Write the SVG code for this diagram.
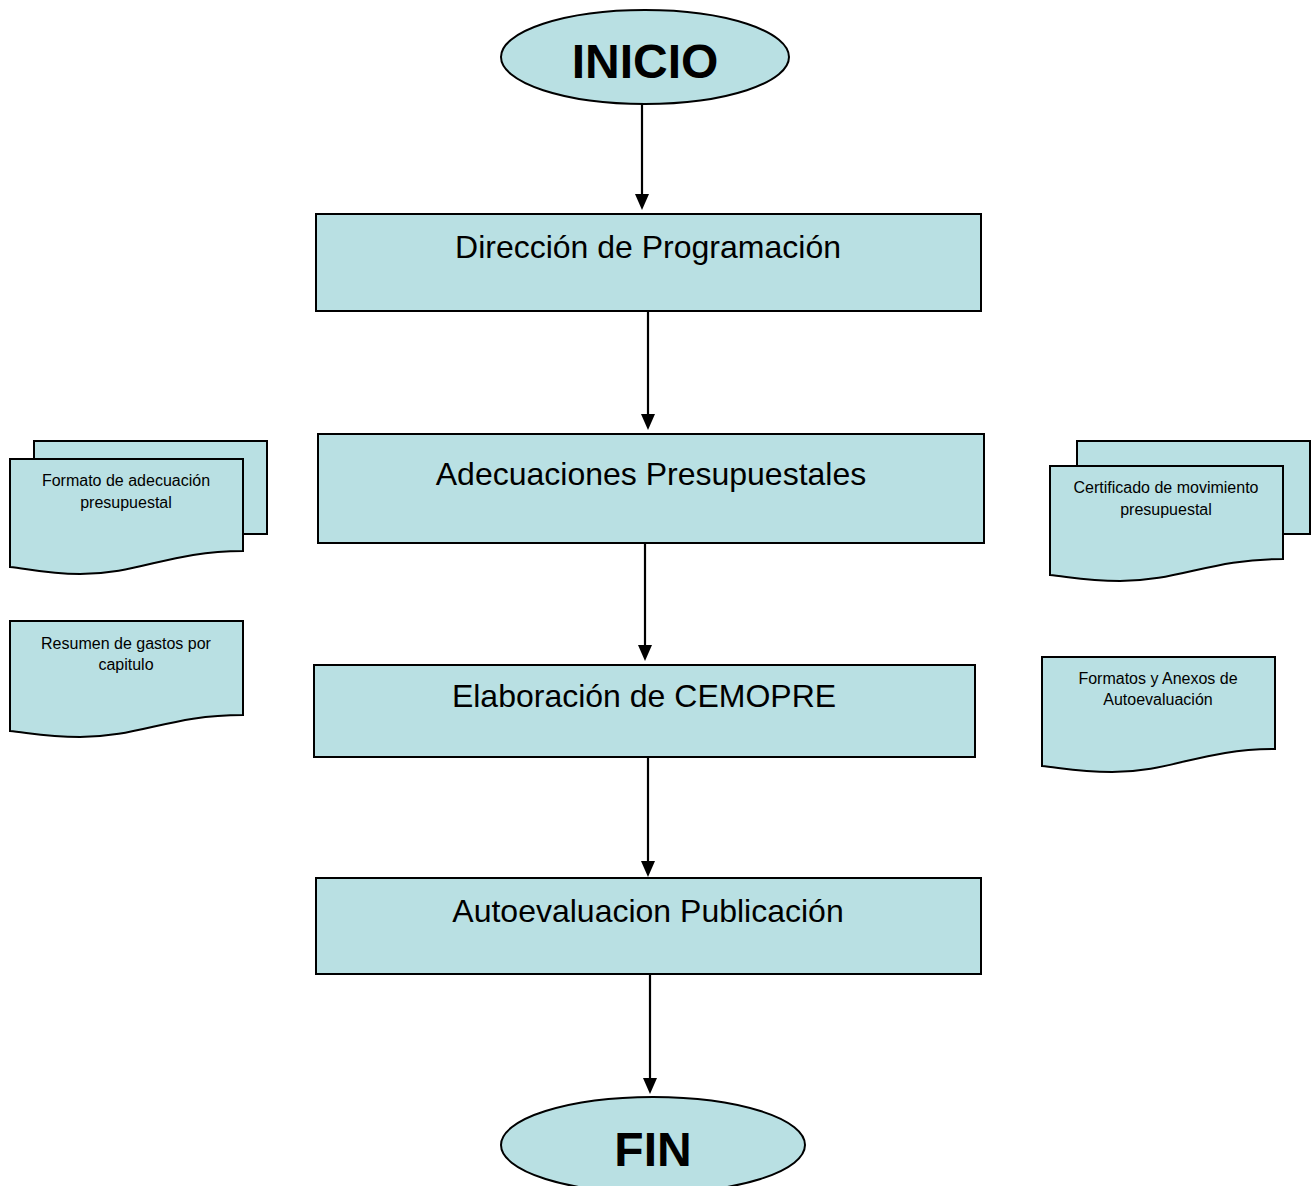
<svg xmlns="http://www.w3.org/2000/svg" width="1314" height="1186" viewBox="0 0 1314 1186">
  <style>
    .shape { fill: #B9E0E3; stroke: #000; stroke-width: 2; }
    .edge { stroke: #000; stroke-width: 2.2; fill: none; }
    .head { fill: #000; }
    .big { font-family: "Liberation Sans", Arial, sans-serif; font-size: 32px; fill: #000; text-anchor: middle; }
    .term { font-family: "Liberation Sans", Arial, sans-serif; font-size: 48px; font-weight: bold; fill: #000; text-anchor: middle; }
    .small { font-family: "Liberation Sans", Arial, sans-serif; font-size: 16px; fill: #000; text-anchor: middle; }
  </style>
  <rect width="1314" height="1186" fill="#fff"/>

  <g id="connectors">
    <path class="edge" d="M642,104 L642,194"/>
    <path class="head" d="M635,194 L649,194 L642,210 Z"/>
    <path class="edge" d="M648,311 L648,414"/>
    <path class="head" d="M641,414 L655,414 L648,430 Z"/>
    <path class="edge" d="M645,543 L645,645"/>
    <path class="head" d="M638,645 L652,645 L645,661 Z"/>
    <path class="edge" d="M648,757 L648,861"/>
    <path class="head" d="M641,861 L655,861 L648,877 Z"/>
    <path class="edge" d="M650,974 L650,1078"/>
    <path class="head" d="M643,1078 L657,1078 L650,1094 Z"/>
  </g>

  <g id="inicio">
    <ellipse class="shape" cx="645" cy="57" rx="144" ry="47"/>
    <text class="term" x="645" y="78">INICIO</text>
  </g>

  <g id="direccion">
    <rect class="shape" x="316" y="214" width="665" height="97"/>
    <text class="big" x="648" y="258">Dirección de Programación</text>
  </g>

  <g id="adecuaciones">
    <rect class="shape" x="318" y="434" width="666" height="109"/>
    <text class="big" x="651" y="485">Adecuaciones Presupuestales</text>
  </g>

  <g id="cemopre">
    <rect class="shape" x="314" y="665" width="661" height="92"/>
    <text class="big" x="644" y="707">Elaboración de CEMOPRE</text>
  </g>

  <g id="autoevaluacion">
    <rect class="shape" x="316" y="878" width="665" height="96"/>
    <text class="big" x="648" y="922">Autoevaluacion Publicación</text>
  </g>

  <g id="fin">
    <ellipse class="shape" cx="653" cy="1145" rx="152" ry="48"/>
    <text class="term" x="653" y="1166">FIN</text>
  </g>

  <!-- stacked documents: formato de adecuación -->
  <g id="doc-formato">
    <rect class="shape" x="34" y="441" width="233" height="93"/>
    <path class="shape" d="M10,459 L243,459 L243,551 C170,551 140,574 80,574 C45,574 25,568 10,567 Z"/>
    <text class="small" x="126" y="486">Formato de adecuación</text>
    <text class="small" x="126" y="508">presupuestal</text>
  </g>

  <!-- stacked documents: certificado -->
  <g id="doc-certificado">
    <rect class="shape" x="1077" y="441" width="233" height="93"/>
    <path class="shape" d="M1050,466 L1283,466 L1283,559 C1210,559 1180,581 1120,581 C1085,581 1065,576 1050,575 Z"/>
    <text class="small" x="1166" y="493">Certificado de movimiento</text>
    <text class="small" x="1166" y="515">presupuestal</text>
  </g>

  <!-- single document: resumen -->
  <g id="doc-resumen">
    <path class="shape" d="M10,621 L243,621 L243,715 C170,715 140,737 80,737 C45,737 25,732 10,731 Z"/>
    <text class="small" x="126" y="649">Resumen de gastos por</text>
    <text class="small" x="126" y="670">capitulo</text>
  </g>

  <!-- single document: formatos y anexos -->
  <g id="doc-formatos">
    <path class="shape" d="M1042,657 L1275,657 L1275,749 C1202,749 1172,772 1112,772 C1077,772 1057,767 1042,766 Z"/>
    <text class="small" x="1158" y="684">Formatos y Anexos de</text>
    <text class="small" x="1158" y="705">Autoevaluación</text>
  </g>
</svg>
